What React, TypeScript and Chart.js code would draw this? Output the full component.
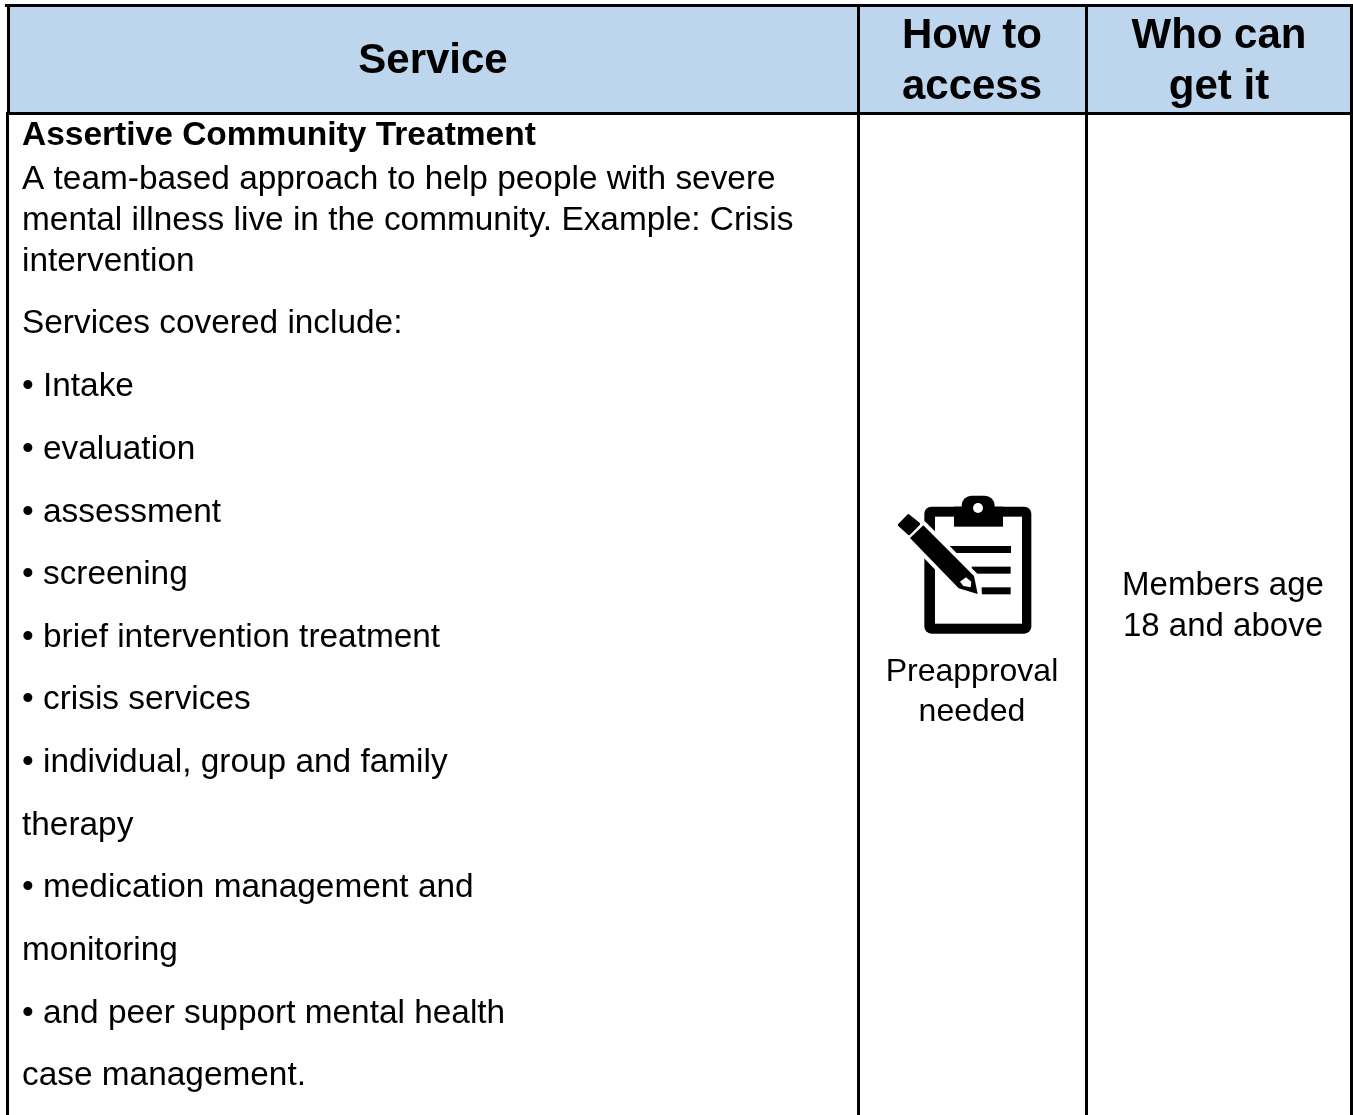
import React, { useEffect, useRef } from "react";
import { Chart, registerables } from "chart.js";

Chart.register(...registerables);

const WIDTH = 1353;
const HEIGHT = 1115;
const FONT = '"Liberation Sans", Arial, sans-serif';

const headerService = ["Service"];
const headerAccess = ["How to", "access"];
const headerWho = ["Who can", "get it"];
const serviceTitle = "Assertive Community Treatment";
const serviceLines = [
  "A team-based approach to help people with severe",
  "mental illness live in the community. Example: Crisis",
  "intervention",
  "Services covered include:",
  "• Intake",
  "• evaluation",
  "• assessment",
  "• screening",
  "• brief intervention treatment",
  "• crisis services",
  "• individual, group and family",
  "therapy",
  "• medication management and",
  "monitoring",
  "• and peer support mental health",
  "case management.",
];
const serviceBaselines = [189, 230, 271, 333, 396, 459, 522, 584, 647, 709, 772, 835, 897, 960, 1023, 1085];
const accessLines = ["Preapproval", "needed"];
const whoLines = ["Members age", "18 and above"];

const tablePlugin = {
  id: "table",
  beforeDatasetsDraw(chart: any) {
    const { ctx, scales } = chart;
    const X = (v: number) => scales.x.getPixelForValue(v);
    const Y = (v: number) => scales.y.getPixelForValue(v);
    ctx.save();
    ctx.fillStyle = "#ffffff";
    ctx.fillRect(0, 0, WIDTH, HEIGHT);
    ctx.fillStyle = "#BDD6EE";
    ctx.fillRect(X(9), Y(6), X(1351) - X(9), Y(113) - Y(6));
    ctx.restore();
  },
  afterDatasetsDraw(chart: any) {
    const { ctx, scales } = chart;
    const X = (v: number) => scales.x.getPixelForValue(v);
    const Y = (v: number) => scales.y.getPixelForValue(v);
    ctx.save();
    ctx.fillStyle = "#000000";
    ctx.textBaseline = "alphabetic";

    ctx.textAlign = "center";
    ctx.font = `bold 42px ${FONT}`;
    ctx.fillText(headerService[0], X(433), Y(73));
    headerAccess.forEach((t, i) => ctx.fillText(t, X(972), Y(48 + i * 51)));
    headerWho.forEach((t, i) => ctx.fillText(t, X(1219), Y(48 + i * 51)));

    ctx.font = `32px ${FONT}`;
    accessLines.forEach((t, i) => ctx.fillText(t, X(972), Y(681 + i * 40)));
    ctx.font = `33px ${FONT}`;
    whoLines.forEach((t, i) => ctx.fillText(t, X(1223), Y(595 + i * 41)));

    ctx.textAlign = "left";
    ctx.font = `bold 33.5px ${FONT}`;
    ctx.fillText(serviceTitle, X(22), Y(145));
    ctx.font = `33.4px ${FONT}`;
    serviceLines.forEach((t, i) => ctx.fillText(t, X(22), Y(serviceBaselines[i])));

    // clipboard icon
    const px = (v: number) => X(880) + v / 3;
    const py = (v: number) => Y(480) + v / 3;
    const poly = (pts: number[][]) => {
      ctx.beginPath();
      pts.forEach((p, i) => (i ? ctx.lineTo(px(p[0]), py(p[1])) : ctx.moveTo(px(p[0]), py(p[1]))));
      ctx.closePath();
    };
    ctx.fillStyle = "#000";
    ctx.beginPath();
    ctx.roundRect(px(133), py(80), 107, 127, 7);
    ctx.fill();
    ctx.fillStyle = "#fff";
    ctx.fillRect(px(165), py(110), 87, 107);
    ctx.fillStyle = "#000";
    ctx.fillRect(px(222), py(80), 49, 20);
    ctx.beginPath();
    ctx.roundRect(px(245), py(47), 33, 20, [10, 10, 0, 0]);
    ctx.fill();
    ctx.fillStyle = "#fff";
    ctx.beginPath();
    ctx.arc(px(294), py(84), 5, 0, Math.PI * 2);
    ctx.fill();
    ctx.fillStyle = "#000";
    ctx.fillRect(px(210), py(198), 61, 7);
    ctx.fillRect(px(275), py(260), 39, 7);
    ctx.fillRect(px(305), py(322), 29, 7);

    // pencil: white halo then black body
    const body = [[90, 174], [130, 136], [282, 288], [293, 342], [236, 325]];
    poly(body);
    ctx.strokeStyle = "#fff";
    ctx.lineWidth = 8;
    ctx.lineJoin = "round";
    ctx.stroke();
    ctx.fillStyle = "#000";
    ctx.fill();
    poly([[58, 135], [85, 107], [116, 132], [87, 161]]);
    ctx.lineJoin = "round";
    ctx.strokeStyle = "#000";
    ctx.lineWidth = 3;
    ctx.stroke();
    ctx.fill();
    ctx.fillStyle = "#fff";
    poly([[240, 305], [258, 292], [274, 305], [272, 322], [250, 318]]);
    ctx.fill();
    ctx.restore();
  },
};

const line = (x1: number, y1: number, x2: number, y2: number, w: number) => ({
  type: "scatter" as const,
  data: [{ x: x1, y: y1 }, { x: x2, y: y2 }],
  showLine: true,
  borderColor: "#000000",
  borderWidth: w,
  pointRadius: 0,
});

export default function App() {
  const ref = useRef<HTMLCanvasElement>(null);
  useEffect(() => {
    const chart = new Chart(ref.current as HTMLCanvasElement, {
      type: "scatter",
      data: {
        datasets: [
          line(5, 5.5, 1353, 5.5, 3),
          line(8.5, 4, 8.5, 113, 3),
          line(6, 113.5, 1353, 113.5, 3),
          line(7.5, 112, 7.5, 1115, 3),
          line(858.5, 4, 858.5, 1115, 3),
          line(1086.5, 4, 1086.5, 1115, 3),
          line(1351.5, 4, 1351.5, 1115, 3),
        ],
      },
      options: {
        animation: false,
        responsive: false,
        layout: { padding: 0 },
        plugins: { legend: { display: false }, tooltip: { enabled: false } },
        scales: {
          x: { type: "linear", min: 0, max: WIDTH, display: false },
          y: { type: "linear", min: 0, max: HEIGHT, reverse: true, display: false },
        },
        clip: false,
      } as any,
      plugins: [tablePlugin],
    } as any);
    return () => chart.destroy();
  }, []);
  return (
    <div style={{ position: "absolute", left: 0, top: 0, width: WIDTH, height: HEIGHT, overflow: "hidden" }}>
      <canvas ref={ref} width={WIDTH} height={HEIGHT} style={{ display: "block" }} />
    </div>
  );
}
